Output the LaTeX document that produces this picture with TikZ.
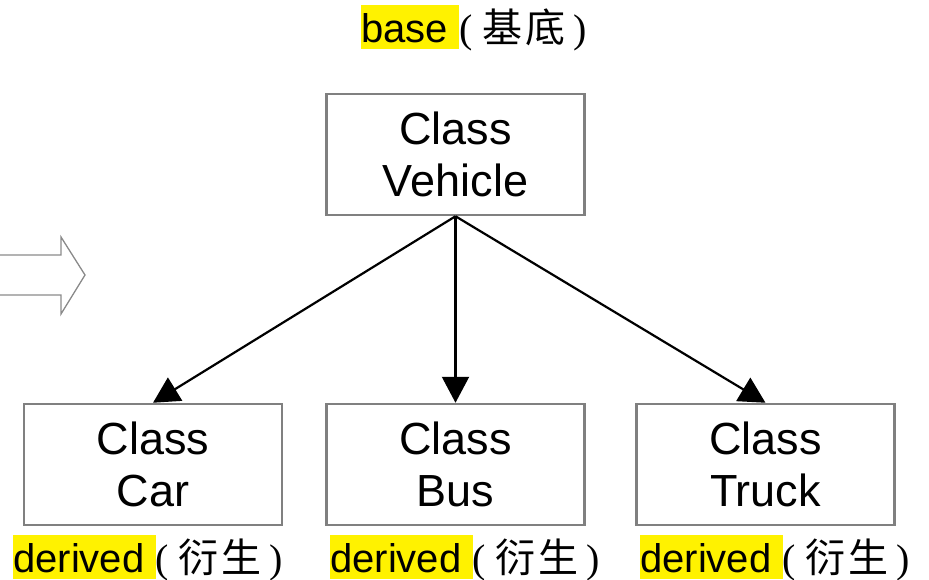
\documentclass[tikz,border=0pt]{standalone}
\usepackage{fontspec}
\setmainfont{Liberation Sans}
\newfontfamily\cjk{Noto Sans CJK TC}
\newfontfamily\serifp{Liberation Serif}
\usetikzlibrary{arrows.meta}
\definecolor{boxgray}{HTML}{808080}
\definecolor{arrgray}{HTML}{8A8A8A}
\newcommand\hlword[1]{{\setlength{\fboxsep}{0pt}\colorbox{yellow}{\rule[-7pt]{0pt}{44pt}#1}}}
\newcommand\cjkpair[2]{{\serifp(}\hspace{10pt}{\cjk #1}\hspace{3pt}{\cjk #2}\hspace{8pt}{\serifp)}}
\tikzset{
  classbox/.style={draw=boxgray, line width=2.5pt, minimum width=258pt, minimum height=121pt,
    inner sep=0pt, align=center, font=\fontsize{45}{52}\selectfont},
  conn/.style={draw=black, line width=2.2pt, -{Triangle[length=26pt,width=27pt]}},
  lbl/.style={anchor=base west, inner sep=0pt, font=\fontsize{40}{44}\selectfont},
}
\begin{document}
\begin{tikzpicture}[x=1pt,y=-1pt]
\useasboundingbox (0,0) rectangle (929,579);
% block arrow on the left
\draw[arrgray, line width=1.3pt, line join=miter]
  (0,255) -- (61,255) -- (61,237) -- (85,275) -- (61,314) -- (61,295) -- (0,295);
% boxes
\node[classbox] (veh) at (455.5,154.5) {Class\\Vehicle};
\node[classbox] (car) at (153,464.5) {Class\\Car};
\node[classbox] (bus) at (455.5,464.5) {Class\\Bus};
\node[classbox] (truck) at (765.5,464.5) {Class\\Truck};
% connectors
\draw[conn] (veh.south) -- (car.north);
\draw[conn] (veh.south) -- (bus.north);
\draw[conn] (veh.south) -- (truck.north);
% labels
\node[lbl] (lbase) at (361,42) {\hlword{base }\cjkpair{基}{底}};
\node[lbl] (lcar) at (13,572) {\hlword{derived }\cjkpair{衍}{生}};
\node[lbl] (lbus) at (330,572) {\hlword{derived }\cjkpair{衍}{生}};
\node[lbl] (ltruck) at (640,572) {\hlword{derived }\cjkpair{衍}{生}};
\end{tikzpicture}
\end{document}
